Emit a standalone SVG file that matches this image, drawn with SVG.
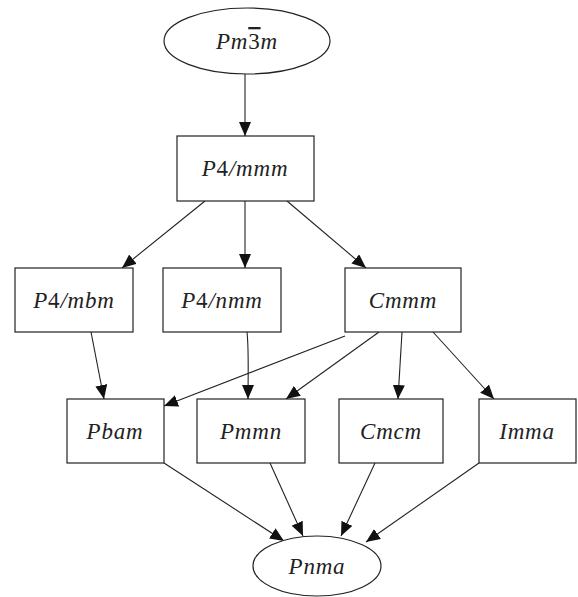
<svg xmlns="http://www.w3.org/2000/svg" width="578" height="597" viewBox="0 0 578 597">
<style>
.n{fill:#fff;stroke:#222;stroke-width:1.2}
.t{font-family:'Liberation Serif',serif;font-style:italic;font-size:23px;letter-spacing:0.8px;fill:#222;text-anchor:middle}
.u{font-style:normal}
.o{font-style:normal;text-decoration:overline}
.e{fill:none;stroke:#222;stroke-width:1.1;marker-end:url(#a)}
</style>
<defs>
<marker id="a" markerUnits="userSpaceOnUse" markerWidth="14" markerHeight="12" viewBox="0 0 14 12" refX="14" refY="6" orient="auto">
<path d="M0,0 L14,6 L0,12 Z" fill="#111"/>
</marker>
</defs>
<g id="edges">
<path class="e" d="M245,74 L245,136"/>
<path class="e" d="M205,201 L122,268"/>
<path class="e" d="M245,201 L245,268"/>
<path class="e" d="M287,201 L366,268"/>
<path class="e" d="M91,332 L104,399"/>
<path class="e" d="M247,332 C249,350 248,380 248,399"/>
<path class="e" d="M345,336 L164,406"/>
<path class="e" d="M379,332 L286,399"/>
<path class="e" d="M402,332 L398,399"/>
<path class="e" d="M433,332 L494,399"/>
<path class="e" d="M164,463 L284,541"/>
<path class="e" d="M270,463 L303,536"/>
<path class="e" d="M375,463 L341,536"/>
<path class="e" d="M479,463 L366,542"/>
</g>
<g id="Pm3m"><ellipse class="n" cx="247" cy="41" rx="83" ry="33"/><text class="t" x="247" y="49">Pm<tspan class="o">3</tspan>m</text></g>
<g id="P4mmm"><rect class="n" x="177" y="136" width="137" height="65"/><text class="t" x="245" y="176">P<tspan class="u">4</tspan>/mmm</text></g>
<g id="P4mbm"><rect class="n" x="15" y="268" width="118" height="64"/><text class="t" x="74" y="308">P<tspan class="u">4</tspan>/mbm</text></g>
<g id="P4nmm"><rect class="n" x="163" y="268" width="118" height="64"/><text class="t" x="222" y="308">P<tspan class="u">4</tspan>/nmm</text></g>
<g id="Cmmm"><rect class="n" x="345" y="268" width="116" height="64"/><text class="t" x="403" y="308">Cmmm</text></g>
<g id="Pbam"><rect class="n" x="67" y="399" width="97" height="64"/><text class="t" x="115" y="439">Pbam</text></g>
<g id="Pmmn"><rect class="n" x="197" y="399" width="108" height="64"/><text class="t" x="251" y="439">Pmmn</text></g>
<g id="Cmcm"><rect class="n" x="339" y="399" width="104" height="64"/><text class="t" x="391" y="439">Cmcm</text></g>
<g id="Imma"><rect class="n" x="479" y="399" width="97" height="64"/><text class="t" x="527" y="439">Imma</text></g>
<g id="Pnma"><ellipse class="n" cx="317" cy="566" rx="64" ry="30"/><text class="t" x="317" y="574">Pnma</text></g>
</svg>
